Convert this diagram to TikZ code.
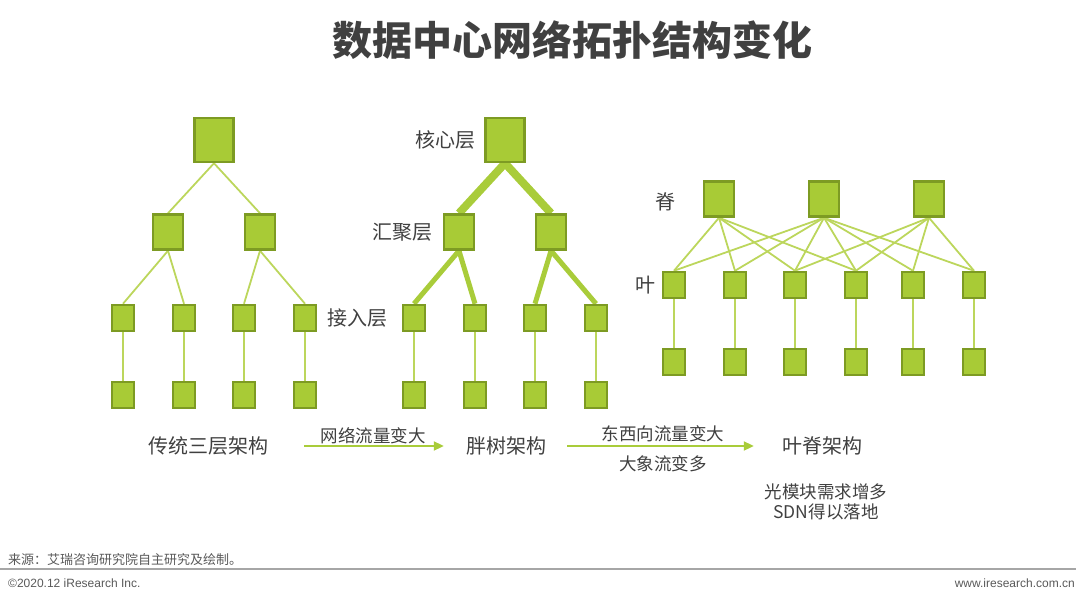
\documentclass[tikz,border=0pt]{standalone}
\usepackage{fontspec}
\setmainfont{Noto Sans CJK SC}
\newfontfamily\latinfont{Liberation Sans}
\usetikzlibrary{positioning,arrows.meta,backgrounds}

\definecolor{boxfill}{HTML}{A8CB36}
\definecolor{boxline}{HTML}{7D9B23}
\definecolor{linkgreen}{HTML}{BCD65C}
\definecolor{thickgreen}{HTML}{A9CC3A}
\definecolor{textgray}{HTML}{404040}
\definecolor{footgray}{HTML}{595959}
\definecolor{rulegray}{HTML}{A6A6A6}

\tikzset{
  box/.style={rectangle,draw=boxline,fill=boxfill,line width=2.5pt,inner sep=0pt},
  bigbox/.style={box,minimum width=39pt,minimum height=44pt},
  midbox/.style={box,minimum width=30pt,minimum height=35pt},
  smallbox/.style={box,minimum width=22pt,minimum height=26pt},
  link/.style={draw=linkgreen,line width=1.8pt},
  label/.style={text=textgray,inner sep=1pt,font=\fontsize{20}{22}\selectfont},
  caption/.style={text=textgray,inner sep=1pt,font=\fontsize{17.5}{20}\selectfont},
  flow/.style={draw=thickgreen,line width=2pt,-{Triangle[length=10pt,width=9pt]}},
}

\begin{document}
\begin{tikzpicture}[x=1pt,y=-1pt]
  \useasboundingbox (0,0) rectangle (1080,604);

  \node[text=textgray,font=\fontsize{40}{44}\selectfont\bfseries] (title) at (572,40) {数据中心网络拓扑结构变化};

  % traditional three tier
  \node[bigbox] (t0) at (214,140) {};
  \node[midbox] (t1) at (168,232) {};
  \node[midbox] (t2) at (260,232) {};
  \foreach \i/\x in {1/123,2/184,3/244,4/305} {
    \node[smallbox] (ta\i) at (\x,318) {};
    \node[smallbox] (tb\i) at (\x,395) {};
  }
  \begin{scope}[on background layer]
    \path (t0.south) edge[link] (t1.north);
    \path (t0.south) edge[link] (t2.north);
    \path (t1.south) edge[link] (ta1.north);
    \path (t1.south) edge[link] (ta2.north);
    \path (t2.south) edge[link] (ta3.north);
    \path (t2.south) edge[link] (ta4.north);
    \foreach \i in {1,...,4}
      \path (ta\i) edge[link] (tb\i);
  \end{scope}

  % fat tree
  \node[bigbox] (m0) at (505,140) {};
  \node[midbox] (m1) at (459,232) {};
  \node[midbox] (m2) at (551,232) {};
  \foreach \i/\x in {1/414,2/475,3/535,4/596} {
    \node[smallbox] (ma\i) at (\x,318) {};
    \node[smallbox] (mb\i) at (\x,395) {};
  }
  \begin{scope}[on background layer]
    \path (m0.south) edge[draw=thickgreen,line width=8pt] (m1.north);
    \path (m0.south) edge[draw=thickgreen,line width=8pt] (m2.north);
    \path (m1.south) edge[draw=thickgreen,line width=5pt] (ma1.north);
    \path (m1.south) edge[draw=thickgreen,line width=5pt] (ma2.north);
    \path (m2.south) edge[draw=thickgreen,line width=5pt] (ma3.north);
    \path (m2.south) edge[draw=thickgreen,line width=5pt] (ma4.north);
    \foreach \i in {1,...,4}
      \path (ma\i) edge[link] (mb\i);
  \end{scope}
  \node[label,left=8pt of m0] (core) {核心层};
  \node[label,left=9pt of m1] (aggr) {汇聚层};
  \node[label,left=13pt of ma1] (access) {接入层};

  % spine leaf
  \foreach \i/\x in {1/719,2/824,3/929}
    \node[midbox] (s\i) at (\x,199) {};
  \foreach \i/\x in {1/674,2/735,3/795,4/856,5/913,6/974} {
    \node[smallbox] (l\i) at (\x,285) {};
    \node[smallbox] (h\i) at (\x,362) {};
  }
  \begin{scope}[on background layer]
    \foreach \j in {1,...,4}
      \path (s1.south) edge[link] (l\j.north);
    \foreach \j in {1,...,6}
      \path (s2.south) edge[link] (l\j.north);
    \foreach \j in {3,...,6}
      \path (s3.south) edge[link] (l\j.north);
    \foreach \i in {1,...,6}
      \path (l\i) edge[link] (h\i);
  \end{scope}
  \node[label] (spine) at (665,202) {脊};
  \node[label] (leaf) at (645,285) {叶};

  % captions and arrows
  \node[label] (arch1) at (208,446) {传统三层架构};
  \node[label] (arch2) at (506,446) {胖树架构};
  \node[label] (arch3) at (822,446) {叶脊架构};
  \path (arch1.east) edge[flow,shorten <=35pt,shorten >=21pt] (arch2.west);
  \path (arch2.east) edge[flow,shorten <=20pt,shorten >=27pt] (arch3.west);
  \node[caption] (why1) at (373,436) {网络流量变大};
  \node[caption] (why2) at (663,434) {东西向流量变大};
  \node[caption] (why3) at (663,464) {大象流变多};
  \node[caption,align=center,font=\fontsize{17.5}{20}\selectfont] (result) at (826,502) {光模块需求增多\\SDN得以落地};

  % footer
  \node[anchor=west,text=footgray,inner sep=0pt,font=\fontsize{13}{15}\selectfont] (source) at (8,560) {来源：艾瑞咨询研究院自主研究及绘制。};
  \draw[rulegray,line width=1.5pt] (0,569) -- (1076,569);
  \node[anchor=west,text=footgray,inner sep=0pt,font=\latinfont\fontsize{12}{14}\selectfont] (copy) at (8,583) {©2020.12 iResearch Inc.};
  \node[anchor=east,text=footgray,inner sep=0pt,font=\latinfont\fontsize{12}{14}\selectfont] (web) at (1075,583) {www.iresearch.com.cn};
\end{tikzpicture}
\end{document}
